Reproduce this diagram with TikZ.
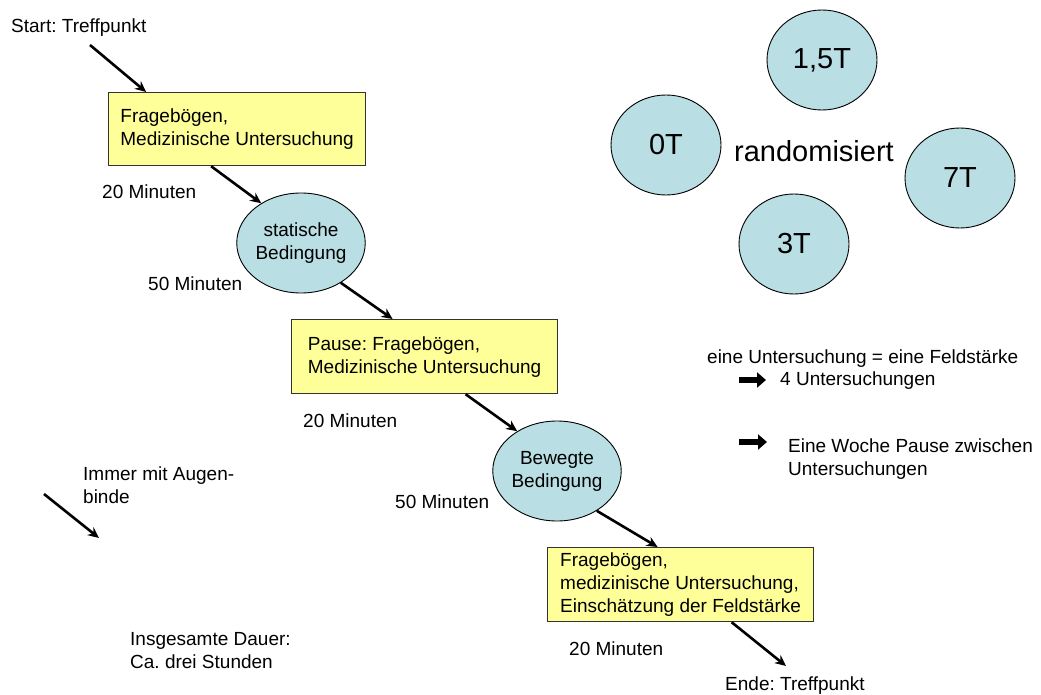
\documentclass[tikz,border=0pt]{standalone}
\usepackage{fontspec}
\setmainfont{Liberation Sans}
\usetikzlibrary{calc,arrows.meta,shapes.geometric}
\frenchspacing

\definecolor{boxyellow}{RGB}{255,255,153}
\definecolor{ovalblue}{RGB}{185,222,227}

\begin{document}
\begin{tikzpicture}[x=1pt,y=-1pt,
	every node/.style={font=\fontsize{19}{23}\selectfont, inner sep=0pt},
	txt/.style={anchor=base west, align=left},
	stepbox/.style={draw=black!80, line width=1.2pt, fill=boxyellow, align=left, anchor=north west},
	oval/.style={ellipse, draw=black, line width=0.9pt, fill=ovalblue, align=center, minimum width=110pt, minimum height=100pt},
	bigoval/.style={oval, font=\fontsize{29}{34}\selectfont},
	flow/.style={line width=2.6pt, -{Stealth[length=11pt,width=10pt]}},
	bigarrow/.style={line width=6pt, -{Triangle[length=9pt,width=15pt]}}]
			%%%%% START %%%%%
			\useasboundingbox (0,0) rectangle (1041,695);
			
			\node[txt] (start) at (11,33) {Start: Treffpunkt};
			\coordinate (s0) at (90,45);
			
			\node[stepbox, minimum width=257pt, minimum height=73pt] (box1) at (108,92) {Fragebögen,\\Medizinische Untersuchung};
			\node[txt] (min1) at (102,199) {20 Minuten};
			\node[oval] (stat) at (301,243) {statische\\Bedingung};
			\node[txt] (min2) at (148,290) {50 Minuten};
			
			\node[stepbox, minimum width=266pt, minimum height=74pt] (box2) at (291,319) {Pause: Fragebögen,\\Medizinische Untersuchung};
			\node[txt] (min3) at (303,427) {20 Minuten};
			\node[oval] (beweg) at (557,471) {Bewegte\\Bedingung};
			\node[txt] (min4) at (395,508) {50 Minuten};
			
			\node[stepbox, minimum width=266pt, minimum height=74pt] (box3) at (547,547) {Fragebögen,\\medizinische Untersuchung,\\Einschätzung der Feldstärke};
			\node[txt] (min5) at (569,655) {20 Minuten};
			\coordinate (e0) at (786,666);
			\node[txt] (ende) at (725,690) {Ende: Treffpunkt};
			
			% Ablauf
			\draw[flow] (s0) -- ($(box1.north)+(-91,0)$);
			\draw[flow] ($(box1.south)+(-26,0)$) -- (stat.135);
			\draw[flow] (stat.-45) -- ($(box2.north)+(-32,0)$);
			\draw[flow] ($(box2.south)+(41,0)$) -- (beweg.135);
			\draw[flow] (beweg.-45) -- ($(box3.north)+(-23,0)$);
			\draw[flow] ($(box3.south)+(51,0)$) -- (e0);
			
			% Augenbinde
			\node[txt] (auge) at (83,503) {Immer mit Augen-\\binde};
			\coordinate (a0) at (44,494);
			\coordinate (a1) at (99,538);
			\draw[flow] (a0) -- (a1);
			
			\node[txt] (dauer) at (130,668) {Insgesamte Dauer:\\Ca. drei Stunden};
			
			% Feldstaerken
			\node[bigoval] (t15) at (822,60) {1,5T};
			\node[bigoval] (t0) at (666,145) {0T};
			\node[bigoval] (t7) at (960,178) {7T};
			\node[bigoval] (t3) at (794,244) {3T};
			\node[txt, font=\fontsize{29}{34}\selectfont] (rand) at (734,162) {randomisiert};
			
			\node[txt] (feld) at (707,363) {eine Untersuchung = eine Feldstärke};
			\coordinate (m1) at (739,380);
			\draw[bigarrow] (m1) -- ++(27,0);
			\node[txt] (vier) at (780,385) {4 Untersuchungen};
			\coordinate (m2) at (739,442);
			\draw[bigarrow] (m2) -- ++(28,0);
			\node[txt] (woche) at (788,475) {Eine Woche Pause zwischen\\Untersuchungen};
			
			%%%%% END %%%%%
\end{tikzpicture}
\end{document}
